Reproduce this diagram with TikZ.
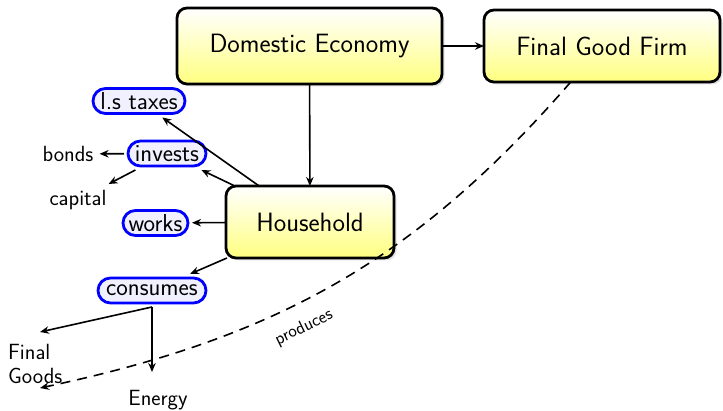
\documentclass[tikz,border=0pt]{standalone}
\usepackage{fontspec}
\usetikzlibrary{arrows.meta,shadows}
\begin{document}
\begin{tikzpicture}[x=1pt,y=-1pt,
  bigbox/.style={draw, line width=2.8pt, rounded corners=10pt,
    top color=white, bottom color=yellow!50,
    drop shadow={shadow xshift=2.5pt, shadow yshift=-2.5pt, fill=black!22},
    inner sep=0pt, outer sep=0pt,
    font=\sffamily\fontsize{26.5}{30}\selectfont},
  action/.style={draw=blue, line width=2.8pt, rounded corners=12.5pt,
    fill=blue!6, inner sep=0pt, outer sep=4pt, minimum height=25pt,
    font=\sffamily\fontsize{24.5}{28}\selectfont},
  lbl/.style={inner sep=6pt, font=\sffamily\fontsize{22}{24}\selectfont},
  arr/.style={line width=1.6pt, -{Stealth[length=9pt,width=7.5pt]}},
  flow/.style={line width=1.6pt, dash pattern=on 10pt off 7pt,
    -{Stealth[length=9pt,width=7.5pt,open]}}
]
\path[use as bounding box] (0,0) rectangle (723,411);

% main agents
\node[bigbox, minimum width=265pt, minimum height=76pt] (dom) at (309.5,46) {Domestic Economy};
\node[bigbox, minimum width=236pt, minimum height=72pt] (firm) at (602,46) {Final Good Firm};
\node[bigbox, minimum width=168pt, minimum height=72pt] (hh) at (310,222) {Household};

% household decisions
\node[action, minimum width=92pt] (tax) at (139,101) {l.s taxes};
\node[action, minimum width=78pt] (inv) at (167,153.5) {invests};
\node[action, minimum width=65pt] (work) at (155.5,223) {works};
\node[action, minimum width=108pt] (cons) at (152,290.5) {consumes};

% outcomes
\node[lbl] (bonds) at (68,154) {bonds};
\node[lbl] (cap) at (78,200) {capital};
\node[lbl, anchor=west, align=left, inner sep=0pt] (fg) at (8,364) {Final\\Goods};
\node[lbl] (en) at (158,400) {Energy};
\coordinate (fgtip) at (40,332);
\coordinate (entip) at (152,372);
\coordinate (flowend) at (40,388);

% connectors
\draw[arr] (dom) -- (firm);
\draw[arr] (dom) -- (hh);
\draw[arr] (hh) -- (tax);
\draw[arr] (hh) -- (inv);
\draw[arr] (hh) -- (work);
\draw[arr] (hh) -- (cons);
\draw[arr] (inv) -- (bonds);
\draw[arr] (inv) -- (cap);
\draw[arr] (cons.south) -- (fgtip);
\draw[arr] (cons.south) -- (entip);

\draw[flow] (firm) to[out=-131, in=12]
  node[pos=0.58, sloped, below=12pt, font=\sffamily\fontsize{18}{20}\selectfont] (prod) {produces}
  (flowend);
\end{tikzpicture}
\end{document}
